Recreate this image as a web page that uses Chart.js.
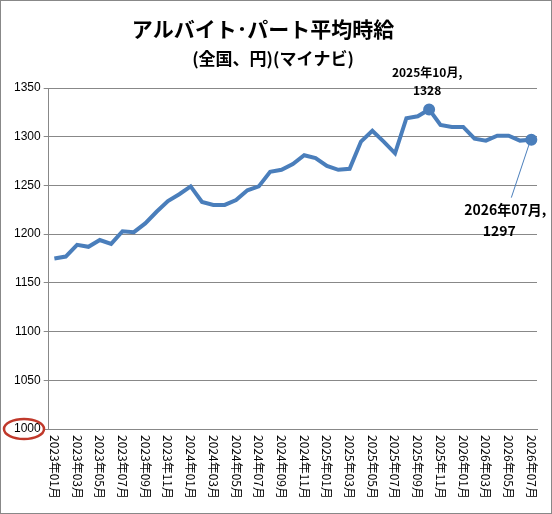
<!DOCTYPE html>
<html><head><meta charset="utf-8">
<script src="https://cdn.jsdelivr.net/npm/chart.js@4"></script>
<style>
html,body{margin:0;padding:0;background:#fff;}
#wrap{position:absolute;left:0;top:0;width:550px;height:512px;border:1px solid #888;}
</style></head>
<body><div id="wrap"><canvas id="c" width="550" height="512"></canvas></div>
<script>
// monthly labels 2023-01 .. 2026-07
const months = [];
for (let y = 2023; y <= 2026; y++) {
    for (let m = 1; m <= 12; m++) {
        if (y === 2026 && m > 7) break;
        months.push(y + '年' + String(m).padStart(2, '0') + '月');
    }
}
const wages = [1175,1177,1189,1187,1194,1190,1203,1202,1211,1223,1234,1241,
    1249,1233,1230,1230,1235,1245,1249,1264,1266,1272,1281,1278,
    1270,1266,1267,1295,1306,1295,1283,1319,1321,1328,1312,1310,
    1310,1298,1296,1301,1301,1296,1297];
const yTicks = [1000,1050,1100,1150,1200,1250,1300,1350];
const peakIdx = wages.indexOf(Math.max(...wages));
const lastIdx = wages.length - 1;
const blue = '#4a7ebb';

const extras = {
    id: 'extras',
    afterDraw(chart){
        const c = chart.ctx, x = chart.scales.x, y = chart.scales.y;
        c.save();
        // title
        c.fillStyle = '#000';
        c.textAlign = 'center';
        c.font = 'bold 21px "Noto Sans CJK JP"';
        c.fillText('アルバイト･パート平均時給', 262, 36);
        c.font = 'bold 17px "Noto Sans CJK JP"';
        c.fillText('(全国、円)(マイナビ)', 272, 64);
        // x labels, vertical top-to-bottom
        c.font = '12px "Noto Sans CJK JP"';
        months.forEach((t, i) => {
            if (i % 2) return;
            const px = x.getPixelForValue(i);
            c.save();
            c.translate(px, y.bottom + 6);
            c.rotate(Math.PI / 2);
            c.textAlign = 'left'; c.textBaseline = 'middle';
            c.fillText(t, 0, 0);
            c.restore();
        });
        // peak label
        const meta = chart.getDatasetMeta(0);
        const pk = meta.data[peakIdx], ls = meta.data[lastIdx];
        c.font = 'bold 12px "Noto Sans CJK JP"';
        c.textAlign = 'center';
        c.fillText(months[peakIdx] + ',', pk.x - 2, pk.y - 32);
        c.fillText(String(wages[peakIdx]), pk.x - 2, pk.y - 14);
        // last label with leader
        c.strokeStyle = blue; c.lineWidth = 1;
        c.beginPath(); c.moveTo(ls.x - 2, ls.y + 4); c.lineTo(ls.x - 20, ls.y + 58); c.stroke();
        c.font = 'bold 14px "Noto Sans CJK JP"';
        c.fillText(months[lastIdx] + ',', ls.x - 26, ls.y + 75);
        c.fillText(String(wages[lastIdx]), ls.x - 32, ls.y + 96);
        // red ellipse around 1000
        c.strokeStyle = '#c0392b'; c.lineWidth = 2.5;
        c.beginPath(); c.ellipse(23, y.getPixelForValue(1000), 20, 10, 0, 0, Math.PI * 2); c.stroke();
        c.restore();
    }
};

new Chart(document.getElementById('c'), {
    type: 'line',
    data: {
        labels: months,
        datasets: [{
            data: wages,
            borderColor: blue,
            borderWidth: 4,
            tension: 0,
            pointRadius: wages.map((v, i) => (i === peakIdx || i === lastIdx) ? 4 : 0),
            pointBackgroundColor: blue,
            pointBorderColor: blue
        }]
    },
    options: {
        responsive: false,
        animation: false,
        layout: { padding: { left: 10, right: 14, top: 87, bottom: 84 } },
        plugins: { legend: { display: false }, tooltip: { enabled: false } },
        scales: {
            x: {
                offset: true,
                grid: { display: false, drawTicks: false },
                border: { color: '#888' },
                ticks: { display: false }
            },
            y: {
                min: 1000, max: 1350,
                afterBuildTicks: s => { s.ticks = yTicks.map(v => ({ value: v })); },
                grid: { color: '#888', drawTicks: true, tickLength: 5 },
                border: { color: '#888' },
                ticks: { color: '#000', font: { size: 12, family: 'Liberation Sans' }, padding: 3, callback: v => String(v) }
            }
        }
    },
    plugins: [extras]
});
</script></body></html>
